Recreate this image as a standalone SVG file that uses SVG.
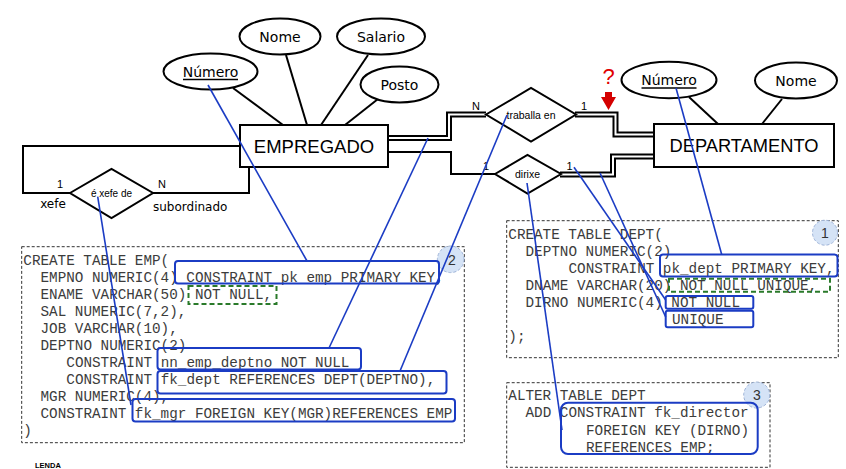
<svg xmlns="http://www.w3.org/2000/svg" width="846" height="469" viewBox="0 0 846 469">
<style>
.ln{fill:none;stroke:#000;stroke-width:2}
.dbl{fill:none;stroke:#000;stroke-width:6;stroke-linejoin:miter}
.dbli{fill:none;stroke:#fff;stroke-width:2;stroke-linejoin:miter}
.shape{fill:#fff;stroke:#000;stroke-width:2}
.attr{font-family:'DejaVu Sans',sans-serif;font-size:14px;fill:#000;text-anchor:middle}
.ent{font-family:'Liberation Sans',Arial,sans-serif;font-size:18.5px;fill:#000;text-anchor:middle}
.rel{font-family:'Liberation Sans',Arial,sans-serif;font-size:10.5px;fill:#000;text-anchor:middle}
.card{font-family:'Liberation Sans',Arial,sans-serif;font-size:11px;fill:#000;text-anchor:middle}
.role{font-family:'DejaVu Sans',sans-serif;font-size:12px;fill:#000}
.code{font-family:'Liberation Mono','Courier New',monospace;font-size:14.3px;fill:#3c3c3c}
.dot{fill:none;stroke:#333;stroke-width:1;stroke-dasharray:3 2}
.bbox{fill:none;stroke:#1b3cc4;stroke-width:2}
.gbox{fill:none;stroke:#2a7a2a;stroke-width:2;stroke-dasharray:5 3}
.blue{fill:none;stroke:#1b3cc4;stroke-width:1.6}
.num{fill:#d5e3f6;stroke:#9fb4d8;stroke-width:1;stroke-dasharray:3 2}
.numt{font-family:'Liberation Sans',Arial,sans-serif;font-size:14px;fill:#333;text-anchor:middle}
</style>
<defs>
<clipPath id="empclip"><rect x="21" y="246" width="434" height="197"/></clipPath>
</defs>
<rect width="846" height="469" fill="#fff"/>

<g id="connectors">
<line class="ln" x1="233" y1="88" x2="283" y2="125"/>
<line class="ln" x1="286" y1="55" x2="307" y2="125"/>
<line class="ln" x1="368" y1="55" x2="321" y2="125"/>
<line class="ln" x1="378" y1="99" x2="345" y2="125"/>
<line class="ln" x1="689" y1="97" x2="718" y2="124"/>
<line class="ln" x1="782" y1="99" x2="762" y2="124"/>
<polyline class="ln" points="240,146 23,146 23,193 70,193"/>
<polyline class="ln" points="153,193 249,193 249,167"/>
<polyline class="ln" points="388,152 451,152 451,174 495,174"/>
<polyline class="dbl" points="388,138 449,138 449,114.5 486,114.5"/>
<polyline class="dbli" points="388,138 449,138 449,114.5 486,114.5"/>
<polyline class="dbl" points="575,114.5 615.5,114.5 615.5,134.5 654,134.5"/>
<polyline class="dbli" points="575,114.5 615.5,114.5 615.5,134.5 654,134.5"/>
<polyline class="dbl" points="560,174.5 613,174.5 613,156.5 654,156.5"/>
<polyline class="dbli" points="560,174.5 613,174.5 613,156.5 654,156.5"/>
</g>

<g id="empregado">
<rect class="shape" x="240" y="125" width="148" height="42"/>
<text class="ent" x="314" y="152.5">EMPREGADO</text>
</g>
<g id="departamento">
<rect class="shape" x="654" y="124" width="180" height="43"/>
<text class="ent" x="744" y="152" style="font-size:18.3px">DEPARTAMENTO</text>
</g>
<g id="emp-numero">
<ellipse class="shape" cx="210.5" cy="71.5" rx="47" ry="18"/>
<text class="attr" x="210.5" y="76.5">Número</text>
<line x1="183" y1="79.5" x2="238" y2="79.5" stroke="#000" stroke-width="1.3"/>
</g>
<g id="emp-nome">
<ellipse class="shape" cx="280" cy="36.5" rx="40.5" ry="18"/>
<text class="attr" x="280" y="41.5">Nome</text>
</g>
<g id="emp-salario">
<ellipse class="shape" cx="381" cy="36.5" rx="44" ry="18"/>
<text class="attr" x="381" y="41.5">Salario</text>
</g>
<g id="emp-posto">
<ellipse class="shape" cx="399.5" cy="84.5" rx="39" ry="18"/>
<text class="attr" x="399.5" y="89.5">Posto</text>
</g>
<g id="dept-numero">
<ellipse class="shape" cx="669" cy="80" rx="47.5" ry="18.3"/>
<text class="attr" x="669" y="85">Número</text>
<line x1="641.5" y1="88" x2="696.5" y2="88" stroke="#000" stroke-width="1.3"/>
</g>
<g id="dept-nome">
<ellipse class="shape" cx="796" cy="80.5" rx="41" ry="18"/>
<text class="attr" x="796" y="85.5">Nome</text>
</g>

<g id="xefe-de">
<polygon class="shape" points="70,193 111.5,169 153,193 111.5,218"/>
<text class="rel" x="111.5" y="197" style="font-size:10px">é xefe de</text>
<text class="card" x="60" y="188">1</text>
<text class="card" x="162" y="188">N</text>
<text class="role" x="53" y="208" text-anchor="middle">xefe</text>
<text class="role" x="153" y="210.5">subordinado</text>
</g>
<g id="traballa-en">
<polygon class="shape" points="486,114.5 531,88 576,114.5 531,141.5"/>
<text class="rel" x="531" y="118.5">traballa en</text>
<text class="card" x="476" y="110">N</text>
<text class="card" x="584" y="110">1</text>
</g>
<g id="dirixe">
<polygon class="shape" points="495,174 527.5,155 561,174 527.5,193.5"/>
<text class="rel" x="527.5" y="178">dirixe</text>
<text class="card" x="486" y="170">1</text>
<text class="card" x="569.5" y="169.5">1</text>
</g>

<g id="question">
<text x="608.5" y="84" font-family="'Liberation Sans',Arial,sans-serif" font-size="22" fill="#e00000" text-anchor="middle">?</text>
<polygon points="605,92 612,92 612,97 616,97 608.5,110 601,97 605,97" fill="#d40000"/>
</g>

<g id="emp-table">
<rect class="dot" x="21.7" y="246.7" width="442.6" height="196"/>
<circle class="num" cx="450.7" cy="259.3" r="13.3"/>
<text class="numt" x="452" y="264.5">2</text>
<g clip-path="url(#empclip)">
<text class="code" x="23.3" y="264.5">CREATE TABLE EMP(</text>
<text class="code" x="40.5" y="281.5">EMPNO NUMERIC(4) CONSTRAINT pk_emp PRIMARY KEY,</text>
<text class="code" x="40.5" y="298.5">ENAME VARCHAR(50) NOT NULL,</text>
<text class="code" x="40.5" y="315.5">SAL NUMERIC(7,2),</text>
<text class="code" x="40.5" y="332.5">JOB VARCHAR(10),</text>
<text class="code" x="40.5" y="349.5">DEPTNO NUMERIC(2)</text>
<text class="code" x="66.3" y="366.5">CONSTRAINT nn_emp_deptno NOT NULL</text>
<text class="code" x="66.3" y="383.5">CONSTRAINT fk_dept REFERENCES DEPT(DEPTNO),</text>
<text class="code" x="40.5" y="400.5">MGR NUMERIC(4),</text>
<text class="code" x="40.5" y="417.5">CONSTRAINT fk_mgr FOREIGN KEY(MGR)REFERENCES EMP</text>
<text class="code" x="23.3" y="434.5">)</text>
</g>
<rect class="bbox" x="175" y="261" width="264" height="22.5" rx="3"/>
<rect class="gbox" x="188.5" y="286" width="88" height="18"/>
<rect class="bbox" x="157.5" y="348" width="203.5" height="21.5" rx="3"/>
<rect class="bbox" x="157.5" y="371" width="289" height="22.5" rx="3"/>
<rect class="bbox" x="132.5" y="399" width="322.5" height="22.5" rx="3"/>
</g>

<g id="dept-table">
<rect class="dot" x="506.7" y="220.7" width="331.6" height="137"/>
<circle class="num" cx="825" cy="232.7" r="12.5"/>
<text class="numt" x="825" y="238">1</text>
<text class="code" x="508.3" y="238.5">CREATE TABLE DEPT(</text>
<text class="code" x="525.5" y="255.5">DEPTNO NUMERIC(2)</text>
<text class="code" x="568.5" y="272.5">CONSTRAINT pk_dept PRIMARY KEY,</text>
<text class="code" x="525.5" y="289.5">DNAME VARCHAR(20) NOT NULL UNIQUE,</text>
<text class="code" x="525.5" y="306.5">DIRNO NUMERIC(4) NOT NULL</text>
<text class="code" x="672" y="323.5">UNIQUE</text>
<text class="code" x="508.3" y="340.5">);</text>
<rect class="bbox" x="660" y="254.5" width="177.5" height="22" rx="3"/>
<rect class="gbox" x="669" y="278.7" width="161" height="13"/>
<rect class="bbox" x="665.7" y="296" width="87.6" height="12.7" rx="2"/>
<rect class="bbox" x="665.7" y="310.7" width="87.6" height="16.6" rx="2"/>
</g>

<g id="alter-table">
<rect class="dot" x="506.7" y="382.7" width="263.3" height="84.6"/>
<circle class="num" cx="756.7" cy="395" r="13"/>
<text class="numt" x="757" y="400">3</text>
<text class="code" x="508.3" y="400">ALTER TABLE DEPT</text>
<text class="code" x="525.5" y="417.3">ADD CONSTRAINT fk_director</text>
<text class="code" x="586" y="434.7">FOREIGN KEY (DIRNO)</text>
<text class="code" x="586" y="451.5">REFERENCES EMP;</text>
<rect class="bbox" x="561" y="402.7" width="196.7" height="51.3" rx="7"/>
</g>

<g id="legend">
<text x="35" y="467.5" font-family="'Liberation Sans',Arial,sans-serif" font-size="7.5" font-weight="bold" fill="#000">LENDA</text>
</g>

<g id="annotations">
<line class="blue" x1="208" y1="85" x2="307" y2="261"/>
<line class="blue" x1="97.7" y1="196.7" x2="131" y2="405"/>
<line class="blue" x1="428" y1="138" x2="329" y2="348"/>
<line class="blue" x1="507" y1="115" x2="400" y2="371"/>
<line class="blue" x1="527" y1="183" x2="562" y2="430"/>
<line class="blue" x1="574" y1="167.3" x2="665.7" y2="300"/>
<line class="blue" x1="600" y1="173" x2="665.7" y2="317"/>
<line class="blue" x1="676" y1="88" x2="721.7" y2="254.5"/>
</g>
</svg>
